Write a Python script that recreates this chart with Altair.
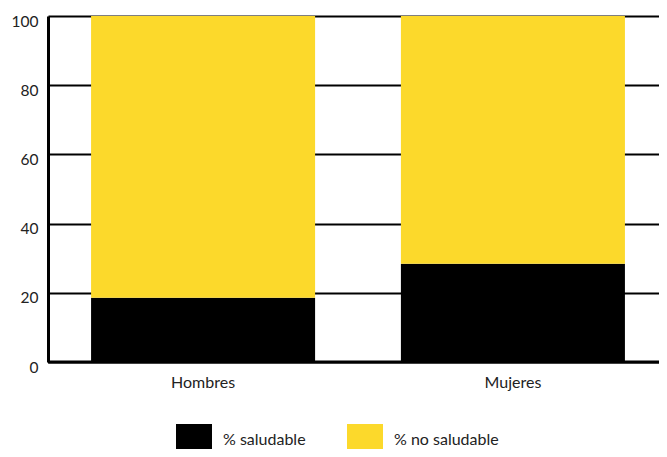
import altair as alt
import pandas as pd

groups = ["Hombres", "Mujeres"]
saludable = [18.6, 28.4]
no_saludable = [81.4, 71.6]
series = ["% saludable", "% no saludable"]
colors = ["#000000", "#FCD92B"]

rows = []
for g, s, n in zip(groups, saludable, no_saludable):
    rows.append({"grupo": g, "serie": series[0], "valor": s, "orden": 0})
    rows.append({"grupo": g, "serie": series[1], "valor": n, "orden": 1})
df = pd.DataFrame(rows)

chart = alt.Chart(df).mark_bar().encode(
    x=alt.X("grupo:N", sort=groups, title=None,
            scale=alt.Scale(range=[0, 620], paddingInner=0.277, paddingOuter=0.139),
            axis=alt.Axis(labelAngle=0, ticks=False, domain=False, labelPadding=12,
                          labelFontSize=16, labelColor="#222", labelFont="Lato")),
    y=alt.Y("valor:Q", title=None, stack="zero",
            scale=alt.Scale(domain=[0, 100]),
            axis=alt.Axis(values=[0, 20, 40, 60, 80, 100], ticks=False, domainWidth=3,
                          domainColor="#000", gridColor="#000", gridWidth=2, gridOpacity=1,
                          labelPadding=10, labelFontSize=15.5, labelColor="#222",
                          labelFont="Lato", labelOffset=5)),
    color=alt.Color("serie:N", sort=series,
                    scale=alt.Scale(domain=series, range=colors),
                    legend=alt.Legend(title=None, orient="none", direction="horizontal",
                                      legendX=125, legendY=408,
                                      symbolType="M-0.857,-1H0.857V1H-0.857Z",
                                      symbolSize=1764, symbolStrokeWidth=0, symbolOpacity=1,
                                      labelFontSize=16, labelColor="#222", labelFont="Lato",
                                      labelBaseline="alphabetic",
                                      labelOffset=8, columnPadding=38)),
    order=alt.Order("orden:Q", sort="ascending"),
)

zero = alt.Chart(pd.DataFrame({"y": [0]})).mark_rule(color="#000", strokeWidth=3).encode(
    y=alt.Y("y:Q", scale=alt.Scale(domain=[0, 100]))
)

final = alt.layer(chart, zero).properties(
    width=611, height=346,
    autosize=alt.AutoSizeParams(type="none"),
    padding={"left": 40, "top": 8, "right": 0, "bottom": 87},
).configure_view(stroke=None).configure(font="Lato")

final.save("out.html", embed_options={"renderer": "svg", "actions": False})
